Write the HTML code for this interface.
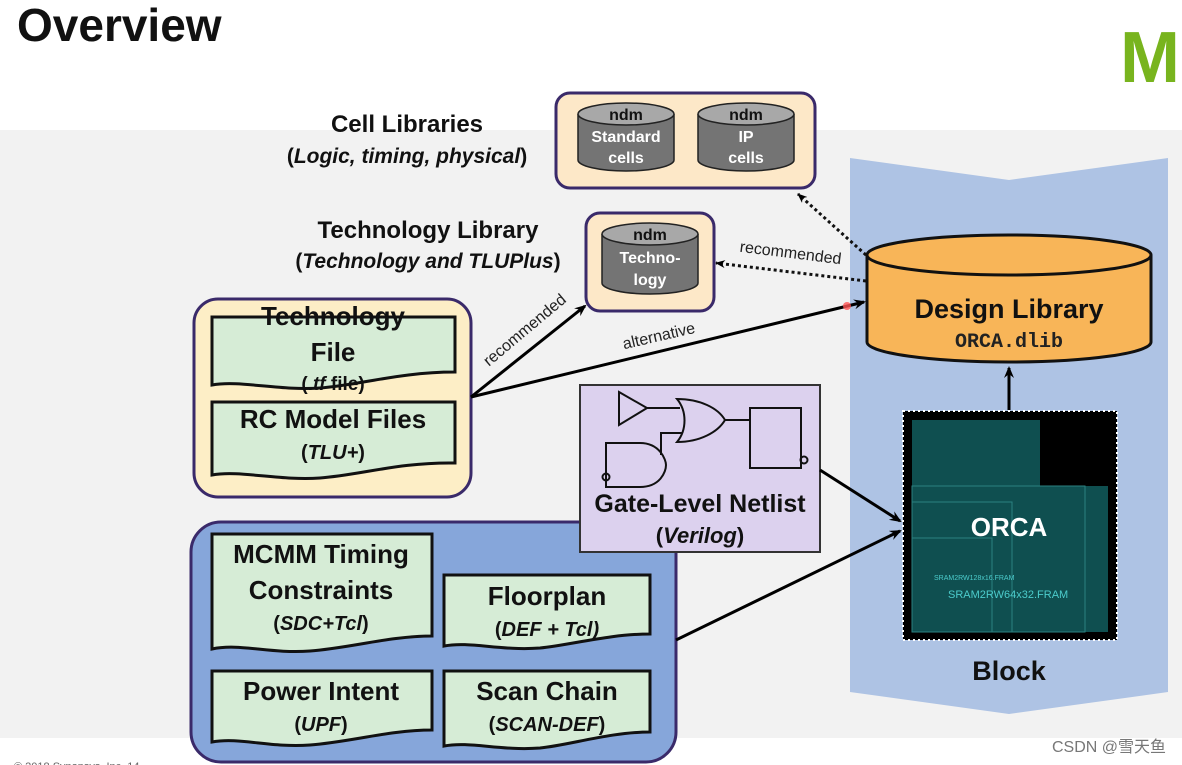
<!DOCTYPE html>
<html><head><meta charset="utf-8"><style>
html,body{margin:0;padding:0;background:#fff;}
svg{display:block;font-family:"Liberation Sans",Arial,sans-serif;}
.b{font-weight:bold;}
</style></head><body>
<svg width="1182" height="765" viewBox="0 0 1182 765" xmlns="http://www.w3.org/2000/svg">
<defs>
<marker id="ah" markerWidth="10" markerHeight="8" refX="9" refY="4" orient="auto" markerUnits="userSpaceOnUse"><path d="M0,0 L10,4 L0,8 L3,4z" fill="#000"/></marker>
<marker id="ah2" markerWidth="12" markerHeight="10" refX="10" refY="5" orient="auto" markerUnits="userSpaceOnUse"><path d="M0,0 L12,5 L0,10 L4,5z" fill="#000"/></marker>
</defs>
<rect x="0" y="0" width="1182" height="765" fill="#fff"/>
<rect x="0" y="130" width="1182" height="608" fill="#f2f2f2"/>
<text x="17" y="41" font-size="46" class="b" fill="#111">Overview</text>
<text x="1120" y="82" font-size="72" class="b" fill="#78b41e">M</text>

<path d="M850,158 L1009,180 L1168,158 L1168,692 L1009,714 L850,692 Z" fill="#aec3e4"/>

<path d="M867,255 L867,342 A142,20 0 0 0 1151,342 L1151,255" fill="#f8b558" stroke="#111" stroke-width="3"/>
<ellipse cx="1009" cy="255" rx="142" ry="20" fill="#f8b558" stroke="#111" stroke-width="3"/>
<text x="1009" y="318" font-size="27" class="b" text-anchor="middle" fill="#111">Design Library</text>
<text x="1009" y="347" font-size="20" class="b" text-anchor="middle" fill="#222" font-family="Liberation Mono,monospace">ORCA.dlib</text>
<line x1="1009" y1="410" x2="1009" y2="368" stroke="#000" stroke-width="3" marker-end="url(#ah2)"/>

<rect x="903" y="411" width="214" height="229" fill="#000"/>
<rect x="903" y="411" width="214" height="229" fill="none" stroke="#fff" stroke-width="2" stroke-dasharray="2,3"/>
<rect x="912" y="420" width="196" height="212" fill="#0f4f50"/>
<rect x="1040" y="420" width="68" height="66" fill="#000"/>
<rect x="912" y="486" width="173" height="146" fill="none" stroke="#2b8080" stroke-width="1"/>
<rect x="912" y="502" width="100" height="130" fill="none" stroke="#2b8080" stroke-width="1"/>
<rect x="912" y="538" width="80" height="94" fill="none" stroke="#2b8080" stroke-width="1"/>
<text x="1009" y="536" font-size="26" class="b" text-anchor="middle" fill="#fff">ORCA</text>
<text x="934" y="580" font-size="7" fill="#4ccccc">SRAM2RW128x16.FRAM</text>
<text x="948" y="598" font-size="11" fill="#4ccccc">SRAM2RW64x32.FRAM</text>
<text x="1009" y="680" font-size="27" class="b" text-anchor="middle" fill="#111">Block</text>

<text x="407" y="132" font-size="24" class="b" text-anchor="middle" fill="#111">Cell Libraries</text>
<text x="407" y="163" font-size="21" class="b" text-anchor="middle" fill="#111">(<tspan font-style="italic">Logic, timing, physical</tspan>)</text>
<rect x="556" y="93" width="259" height="95" rx="14" fill="#fde8c8" stroke="#3a2a6a" stroke-width="3"/>
<g stroke="#222" stroke-width="1.5">
<path d="M578,114 L578,160 A48,11 0 0 0 674,160 L674,114" fill="#747474"/>
<ellipse cx="626" cy="114" rx="48" ry="11" fill="#a8a8a8"/>
<path d="M698,114 L698,160 A48,11 0 0 0 794,160 L794,114" fill="#747474"/>
<ellipse cx="746" cy="114" rx="48" ry="11" fill="#a8a8a8"/>
</g>
<g font-size="16" class="b" text-anchor="middle">
<text x="626" y="120" fill="#111">ndm</text>
<text x="626" y="142" fill="#fff">Standard</text>
<text x="626" y="163" fill="#fff">cells</text>
<text x="746" y="120" fill="#111">ndm</text>
<text x="746" y="142" fill="#fff">IP</text>
<text x="746" y="163" fill="#fff">cells</text>
</g>

<text x="428" y="238" font-size="24" class="b" text-anchor="middle" fill="#111">Technology Library</text>
<text x="428" y="268" font-size="21" class="b" text-anchor="middle" fill="#111">(<tspan font-style="italic">Technology and TLUPlus</tspan>)</text>
<rect x="586" y="213" width="128" height="98" rx="14" fill="#fde8c8" stroke="#3a2a6a" stroke-width="3"/>
<g stroke="#222" stroke-width="1.5">
<path d="M602,234 L602,283 A48,11 0 0 0 698,283 L698,234" fill="#747474"/>
<ellipse cx="650" cy="234" rx="48" ry="11" fill="#a8a8a8"/>
</g>
<g font-size="16" class="b" text-anchor="middle">
<text x="650" y="240" fill="#111">ndm</text>
<text x="650" y="263" fill="#fff">Techno-</text>
<text x="650" y="285" fill="#fff">logy</text>
</g>

<line x1="866" y1="255" x2="798" y2="194" stroke="#111" stroke-width="3" stroke-dasharray="3,3" marker-end="url(#ah)"/>
<line x1="866" y1="281" x2="716" y2="263" stroke="#111" stroke-width="3" stroke-dasharray="3,3" marker-end="url(#ah)"/>
<text x="790" y="258" font-size="16" text-anchor="middle" fill="#222" transform="rotate(7 790 258)">recommended</text>

<rect x="194" y="299" width="277" height="198" rx="24" fill="#fdeec6" stroke="#3a2a6a" stroke-width="3"/>
<path d="M212,317 L455,317 L455,372 C400,372 360,385 320,388 C280,391 240,380 212,385 Z" fill="#d6ecd6" stroke="#111" stroke-width="3"/>
<path d="M212,402 L455,402 L455,463 C400,462 360,475 320,478 C280,481 240,470 212,475 Z" fill="#d6ecd6" stroke="#111" stroke-width="3"/>
<text x="333" y="325" font-size="26" class="b" text-anchor="middle" fill="#111">Technology</text>
<text x="333" y="361" font-size="26" class="b" text-anchor="middle" fill="#111">File</text>
<text x="333" y="390" font-size="19" class="b" text-anchor="middle" fill="#111">(.<tspan font-style="italic">tf</tspan> file)</text>
<text x="333" y="428" font-size="26" class="b" text-anchor="middle" fill="#111">RC Model Files</text>
<text x="333" y="459" font-size="20" class="b" text-anchor="middle" fill="#111">(<tspan font-style="italic">TLU+</tspan>)</text>

<line x1="471" y1="397" x2="585" y2="306" stroke="#000" stroke-width="3" marker-end="url(#ah2)"/>
<line x1="471" y1="397" x2="864" y2="302" stroke="#000" stroke-width="3" marker-end="url(#ah2)"/>
<text x="528" y="334" font-size="16" text-anchor="middle" fill="#222" transform="rotate(-40 528 334)">recommended</text>
<text x="660" y="341" font-size="16" text-anchor="middle" fill="#222" transform="rotate(-13 660 341)">alternative</text>
<circle cx="847" cy="306" r="4" fill="#ff5555" opacity="0.8"/>

<rect x="191" y="522" width="485" height="240" rx="30" fill="#86a6da" stroke="#3a2a6a" stroke-width="3"/>
<g fill="#d6ecd6" stroke="#111" stroke-width="3">
<path d="M212,534 L432,534 L432,636 C390,636 350,648 310,651 C270,654 240,643 212,649 Z"/>
<path d="M444,575 L650,575 L650,634 C610,634 570,645 540,648 C500,651 470,641 444,646 Z"/>
<path d="M212,671 L432,671 L432,730 C390,730 350,742 310,745 C270,748 240,737 212,742 Z"/>
<path d="M444,671 L650,671 L650,732 C610,732 570,745 540,748 C500,751 470,741 444,746 Z"/>
</g>
<g class="b" text-anchor="middle" fill="#111">
<text x="321" y="563" font-size="26">MCMM Timing</text>
<text x="321" y="599" font-size="26">Constraints</text>
<text x="321" y="630" font-size="20">(<tspan font-style="italic">SDC+Tcl</tspan>)</text>
<text x="547" y="605" font-size="26">Floorplan</text>
<text x="547" y="636" font-size="20">(<tspan font-style="italic">DEF + Tcl)</tspan></text>
<text x="321" y="700" font-size="26">Power Intent</text>
<text x="321" y="731" font-size="20">(<tspan font-style="italic">UPF</tspan>)</text>
<text x="547" y="700" font-size="26">Scan Chain</text>
<text x="547" y="731" font-size="20">(<tspan font-style="italic">SCAN-DEF</tspan>)</text>
</g>

<rect x="580" y="385" width="240" height="167" fill="#dcd1ee" stroke="#333" stroke-width="2"/>
<g fill="none" stroke="#111" stroke-width="2">
<path d="M619,392 L619,425 L647,408 Z"/>
<line x1="647" y1="408" x2="680" y2="408"/>
<path d="M677,399 C700,399 718,408 725,420 C718,432 700,442 677,442 C687,430 687,411 677,399 Z"/>
<line x1="725" y1="420" x2="750" y2="420"/>
<rect x="750" y="408" width="51" height="60"/>
<circle cx="804" cy="460" r="3.5"/>
<path d="M661,455 L661,433 L683,433"/>
<path d="M606,443 L640,443 C660,443 666,460 666,465 C666,472 660,487 640,487 L606,487 Z"/>
<circle cx="606" cy="477" r="3.5"/>
</g>
<text x="700" y="512" font-size="25" class="b" text-anchor="middle" fill="#111">Gate-Level Netlist</text>
<text x="700" y="543" font-size="22" class="b" text-anchor="middle" fill="#111">(<tspan font-style="italic">Verilog</tspan>)</text>

<line x1="820" y1="470" x2="900" y2="521" stroke="#000" stroke-width="3" marker-end="url(#ah2)"/>
<line x1="676" y1="640" x2="900" y2="531" stroke="#000" stroke-width="3" marker-end="url(#ah2)"/>

<text x="14" y="770" font-size="11" fill="#666">© 2018 Synopsys, Inc.   14</text>
<text x="1166" y="752" font-size="16" text-anchor="end" fill="#777" font-family="Liberation Sans,'Noto Sans CJK SC',sans-serif">CSDN @雪天鱼</text>
</svg>
</body></html>
